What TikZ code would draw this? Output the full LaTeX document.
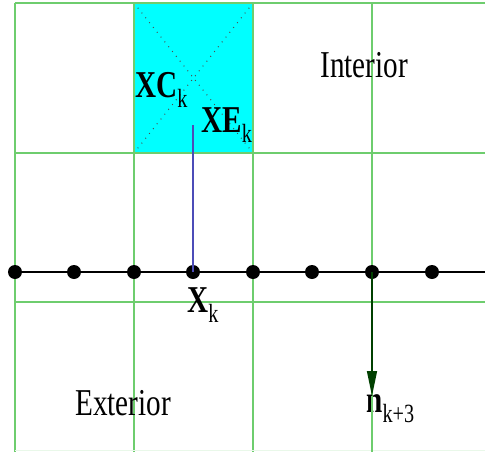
\documentclass[tikz,border=0pt]{standalone}
\usepackage{fontspec}
\setmainfont{Liberation Serif}
\usetikzlibrary{positioning,arrows.meta}
\definecolor{cellcyan}{RGB}{0,255,255}
\definecolor{gridgreen}{RGB}{110,205,110}
\newcommand\subk[1]{\raisebox{-4.5pt}{\mdseries\fontsize{11.5}{11.5}\selectfont #1}}
\newcommand\tallbox[1]{\scalebox{1}[1.3]{#1}}

\begin{document}
\begin{tikzpicture}[x=0.2mm,y=-0.2mm,
  gridln/.style={draw=gridgreen,line width=0.7pt},
  dot/.style={circle,fill=black,inner sep=0pt,minimum width=2.5mm,minimum height=2.8mm},
  lab/.style={font=\fontsize{16.6}{20}\selectfont,inner sep=0pt},
  arr/.style={-{Triangle[length=5mm,width=2mm]},line width=0.8pt}]
  \useasboundingbox (0,0) rectangle (485,452);
  % cell with the cyan fill and its diagonals
  \fill[cellcyan] (134,3) rectangle (253,153);
  \draw[black!70,line width=0.6pt,dash pattern=on 0.5pt off 3pt] (134,3) -- (253,153) (253,3) -- (134,153);
  % grid
  \foreach \gx in {15,134,253,372} \draw[gridln] (\gx,3) -- (\gx,452);
  \foreach \gy in {3,153,302} \draw[gridln] (15,\gy) -- (485,\gy);
  \draw[gridgreen!15,line width=0.5pt] (15,450) -- (485,450);
  % interface line and its points
  \draw[line width=0.8pt] (15,272) -- (485,272);
  \foreach \i/\px in {1/15,2/74,3/134,4/193,5/253,6/312,7/372,8/432}
    \node[dot] (d\i) at (\px,272) {};
  % labels
  \node[lab,anchor=base west] (interior) at (320,77) {\tallbox{Interior}};
  \node[lab,anchor=base west] (exterior) at (75,415) {\tallbox{Exterior}};
  \node[lab,anchor=base west] (xc) at (135,97) {\tallbox{\bfseries XC\subk{k}}};
  \node[lab,anchor=base west] (xe) at (201,132) {\tallbox{\bfseries XE\subk{k}}};
  \node[lab,anchor=base west] (xk) at (187,312) {\tallbox{\bfseries X\subk{k}}};
  \node[lab,anchor=base west] (nk) at (366,412) {\tallbox{\bfseries n\subk{k+3}}};
  \coordinate (xetop) at (193,125);
  \coordinate (ntip) at (372,396);
  \draw[blue!60!black!70,line width=0.6pt] (xetop) -- (d4.center);
  \draw[arr,green!25!black] (d7.center) -- (ntip);
  \draw[gridln] (372,396) -- (372,452);
\end{tikzpicture}
\end{document}
